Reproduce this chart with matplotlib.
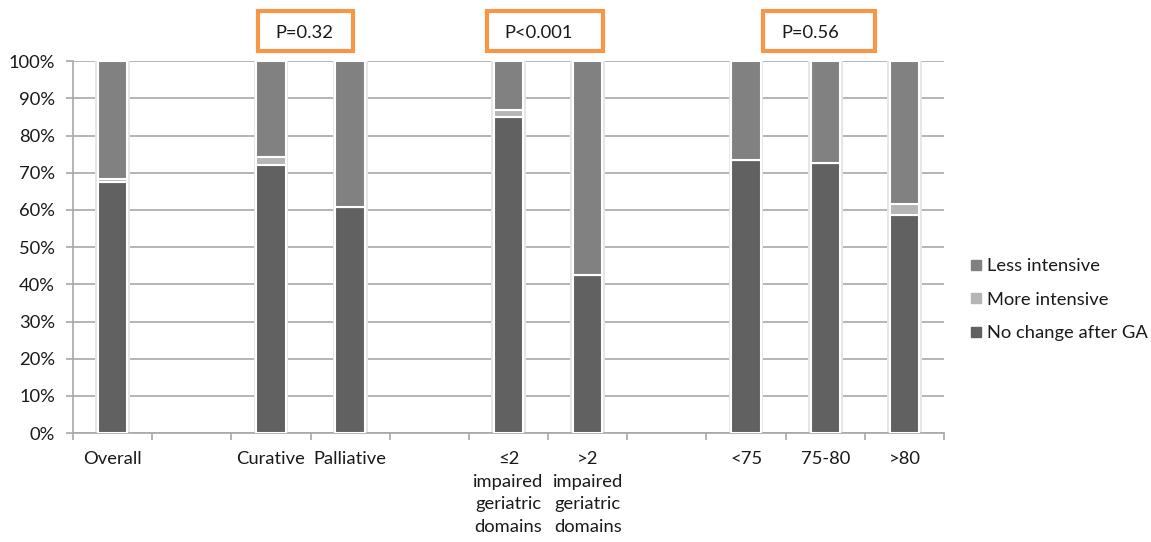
import matplotlib
matplotlib.use('Agg')
import matplotlib.pyplot as plt
from matplotlib.lines import Line2D
from matplotlib.patches import Rectangle
import numpy as np

plt.rcParams['font.family'] = ['Lato', 'DejaVu Sans']

# data: one slot per category, empty slots are spacers between groups
categories = ['Overall', '', 'Curative', 'Palliative', '',
              '\u22642\nimpaired\ngeriatric\ndomains', '>2\nimpaired\ngeriatric\ndomains', '',
              '<75', '75-80', '>80']
no_change = [67.5, np.nan, 72.0, 60.9, np.nan, 84.9, 42.5, np.nan, 73.5, 72.6, 58.7]
more_intensive = [0.9, np.nan, 2.2, 0.0, np.nan, 2.1, 0.0, np.nan, 0.0, 0.0, 2.8]
less_intensive = [31.6, np.nan, 25.8, 39.1, np.nan, 13.0, 57.5, np.nan, 26.5, 27.4, 38.5]

p_labels = ['P=0.32', 'P<0.001', 'P=0.56']
# box extents in category units (left, right)
p_boxes = [(1.84, 3.03), (4.73, 6.19), (8.22, 9.63)]

c_none = '#616161'
c_more = '#b5b5b5'
c_less = '#818181'
orange = '#f79646'
fs = 13.2

fig = plt.figure(figsize=(11.51, 5.42), dpi=100)
ax = fig.add_axes([0.0634, 0.201, 0.7568, 0.686])

x = np.arange(len(categories))
nc = np.array(no_change)
mi = np.array(more_intensive)
li = np.array(less_intensive)
w = 0.37

# soft shadow behind the bars
tot = nc + mi + li
ax.bar(x, tot, width=w + 0.07, color='#e6e6e6', zorder=2, linewidth=0)
ax.bar(x, nc, width=w, color=c_none, edgecolor='white', linewidth=1.5, zorder=3)
ax.bar(x, mi, width=w, bottom=nc, color=c_more, edgecolor='white', linewidth=1.5, zorder=3)
ax.bar(x, li, width=w, bottom=nc + mi, color=c_less, edgecolor='white', linewidth=1.5, zorder=3)

ax.set_xlim(-0.5, len(categories) - 0.5)
ax.set_ylim(0, 100)
ax.set_yticks(np.arange(0, 101, 10))
ax.set_yticklabels(['%d%%' % v for v in range(0, 101, 10)])
ax.yaxis.grid(True, color='#a8a8a8', linewidth=1.2, zorder=1)
ax.set_axisbelow(True)

ax.set_xticks(x)
ax.set_xticklabels(categories, linespacing=1.5, va='top')
ax.set_xticks(np.arange(-0.5, len(categories)), minor=True)
ax.tick_params(axis='x', which='major', length=0, pad=13, labelsize=fs, labelcolor='#1a1a1a')
ax.tick_params(axis='x', which='minor', length=5, color='#a8a8a8', width=1.2)
ax.tick_params(axis='y', length=5, color='#a8a8a8', width=1.2, pad=8, labelsize=fs, labelcolor='#1a1a1a')

for s in ['top', 'right']:
    ax.spines[s].set_visible(False)
for s in ['left', 'bottom']:
    ax.spines[s].set_color('#a8a8a8')
    ax.spines[s].set_linewidth(1.2)

# p-value boxes above the groups
trans = ax.get_xaxis_transform()
for lab, (x0, x1) in zip(p_labels, p_boxes):
    ax.add_patch(Rectangle((x0, 1.027), x1 - x0, 0.107, transform=trans, fill=False,
                           edgecolor=orange, linewidth=3, clip_on=False, zorder=5))
    ax.text(x0 + 0.22, 1.077, lab, transform=trans, ha='left', va='center',
            fontsize=fs, color='#1a1a1a')

handles = [Line2D([], [], marker='s', linestyle='none', markersize=7, color=c, label=l)
           for c, l in [(c_less, 'Less intensive'), (c_more, 'More intensive'),
                        (c_none, 'No change after GA')]]
fig.legend(handles=handles, loc='center left', bbox_to_anchor=(0.826, 0.447), frameon=False,
           fontsize=fs, handletextpad=0.1, labelspacing=0.95, handlelength=1.0,
           labelcolor='#1a1a1a')

fig.savefig('out.png', dpi=100)
